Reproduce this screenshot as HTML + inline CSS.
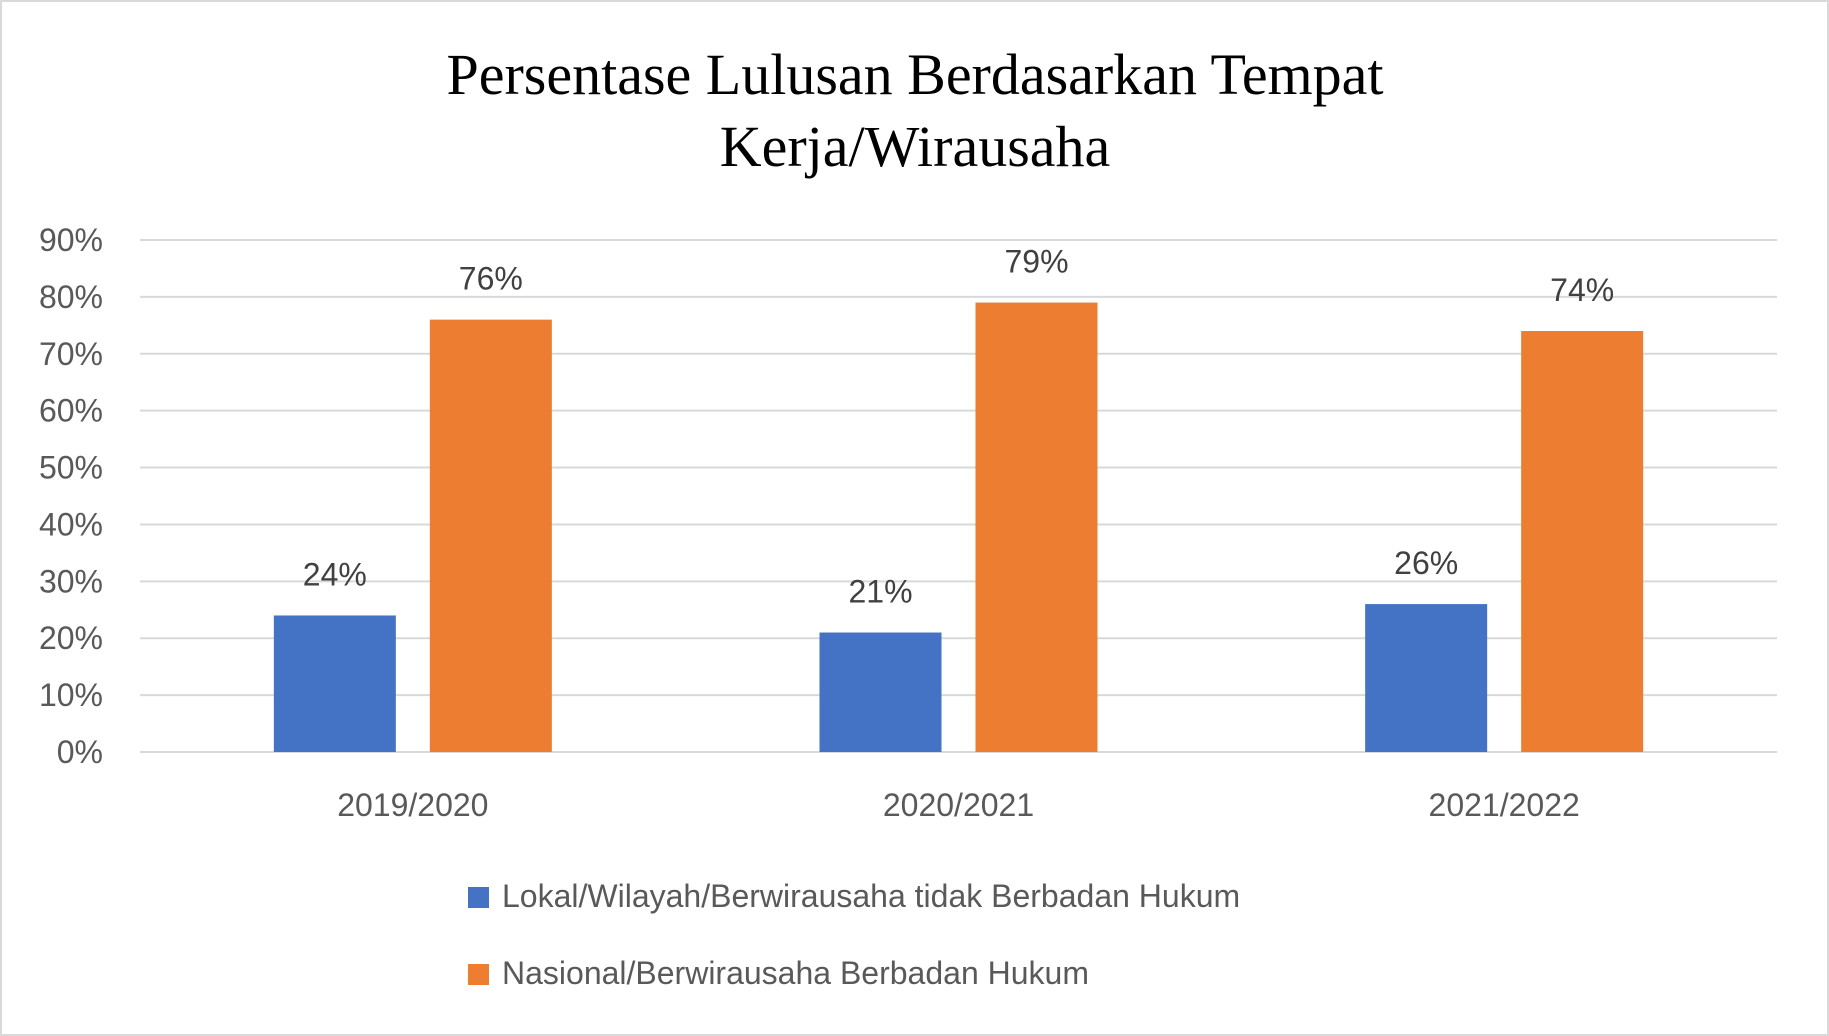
<!DOCTYPE html>
<html><head><meta charset="utf-8"><style>
html,body{margin:0;padding:0;background:#fff}
svg{display:block}
</style></head><body>
<svg width="1829" height="1036" viewBox="0 0 1829 1036" xmlns="http://www.w3.org/2000/svg">
<rect x="1" y="1" width="1827" height="1034" fill="#fff" stroke="#d9d9d9" stroke-width="2"/>
<text x="915" y="94" text-anchor="middle" font-family="Liberation Serif, serif" font-size="58" fill="#000">Persentase Lulusan Berdasarkan Tempat</text>
<text x="915" y="166" text-anchor="middle" font-family="Liberation Serif, serif" font-size="58" fill="#000">Kerja/Wirausaha</text>
<g id="grid"></g><g id="bars"></g><g id="labels"></g>
<rect x="468" y="887" width="21" height="21" fill="#4472c4"/>
<text x="502" y="907" font-family="Liberation Sans, sans-serif" font-size="32" fill="#595959">Lokal/Wilayah/Berwirausaha tidak Berbadan Hukum</text>
<rect x="468" y="964" width="21" height="21" fill="#ed7d31"/>
<text x="502" y="984" font-family="Liberation Sans, sans-serif" font-size="32" fill="#595959">Nasional/Berwirausaha Berbadan Hukum</text>
</svg>
<script>
const categories=["2019/2020","2020/2021","2021/2022"];
const lokal=[24,21,26];
const nasional=[76,79,74];
const ticks=[0,10,20,30,40,50,60,70,80,90];
const NS="http://www.w3.org/2000/svg";
const L=140,R=1777,Y0=752,Y90=240;
const y=v=>Y0-(v/90)*(Y0-Y90);
const cw=(R-L)/categories.length;
const cx=i=>L+cw*(i+0.5);
function mk(tag,attrs,parent,txt){const e=document.createElementNS(NS,tag);for(const k in attrs)e.setAttribute(k,attrs[k]);if(txt!==undefined)e.textContent=txt;document.getElementById(parent).appendChild(e);return e;}
ticks.forEach(t=>{
  const ln=mk('line',{x1:L,x2:R,y1:y(t),y2:y(t),stroke:'#d9d9d9','stroke-width':2},'grid');
  
  
  const tx=mk('text',{x:103,y:y(t)+11,'text-anchor':'end','font-family':'Liberation Sans, sans-serif','font-size':32,fill:'#595959'},'labels',t+'%');
  
  
});
const bw=122,off=78;
categories.forEach((c,i)=>{
  [[lokal,'#4472c4',-off,'lokal'],[nasional,'#ed7d31',off,'nasional']].forEach(([arr,col,o,n])=>{
    const v=arr[i];
    const b=mk('rect',{x:cx(i)+o-bw/2,y:y(v),width:bw,height:Y0-y(v),fill:col},'bars');
    
    
    const t=mk('text',{x:cx(i)+o,y:y(v)-30,'text-anchor':'middle','font-family':'Liberation Sans, sans-serif','font-size':32,fill:'#404040'},'labels',v+'%');
    
    
  });
  const xl=mk('text',{x:cx(i),y:816,'text-anchor':'middle','font-family':'Liberation Sans, sans-serif','font-size':32,fill:'#595959'},'labels',c);
  
  
});
</script>
</body></html>
